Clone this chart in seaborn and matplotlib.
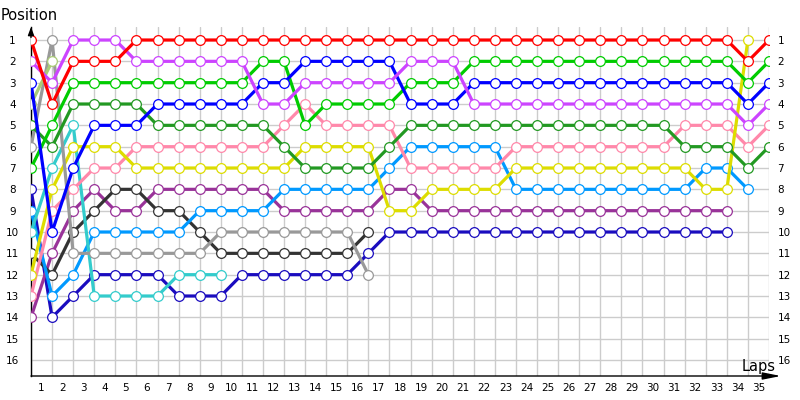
import matplotlib

matplotlib.use("Agg")
import matplotlib.pyplot as plt
import seaborn as sns

# Race position at the end of each lap; index 0 is the starting grid.
red = [1, 4, 2, 2, 2, 1, 1, 1, 1, 1, 1, 1, 1, 1, 1, 1, 1, 1, 1, 1,
       1, 1, 1, 1, 1, 1, 1, 1, 1, 1, 1, 1, 1, 1, 2, 1]
violet = [2, 3, 1, 1, 1, 2, 2, 2, 2, 2, 2, 4, 4, 3, 3, 3, 3, 3, 2, 2,
          2, 4, 4, 4, 4, 4, 4, 4, 4, 4, 4, 4, 4, 4, 5, 4]
blue = [3, 10, 7, 5, 5, 5, 4, 4, 4, 4, 4, 3, 3, 2, 2, 2, 2, 2, 4, 4,
        4, 3, 3, 3, 3, 3, 3, 3, 3, 3, 3, 3, 3, 3, 4, 3]
light_green = [4, 2]
green = [7, 5, 3, 3, 3, 3, 3, 3, 3, 3, 3, 2, 2, 5, 4, 4, 4, 4, 3, 3,
         3, 2, 2, 2, 2, 2, 2, 2, 2, 2, 2, 2, 2, 2, 3, 2]
dark_green = [5, 6, 4, 4, 4, 4, 5, 5, 5, 5, 5, 5, 6, 7, 7, 7, 7, 6, 5, 5,
              5, 5, 5, 5, 5, 5, 5, 5, 5, 5, 5, 6, 6, 6, 7, 6]
gray = [6, 1, 11, 11, 11, 11, 11, 11, 11, 10, 10, 10, 10, 10, 10, 10, 12]
yellow = [12, 8, 6, 6, 6, 7, 7, 7, 7, 7, 7, 7, 7, 6, 6, 6, 6, 9, 9, 8,
          8, 8, 8, 7, 7, 7, 7, 7, 7, 7, 7, 7, 8, 8, 1]
pink = [13, 9, 8, 7, 7, 6, 6, 6, 6, 6, 6, 6, 5, 4, 5, 5, 5, 5, 7, 7,
        7, 7, 7, 6, 6, 6, 6, 6, 6, 6, 6, 5, 5, 5, 6, 5]
cyan = [10, 7, 5, 13, 13, 13, 13, 12, 12, 12]
light_blue = [9, 13, 12, 10, 10, 10, 10, 10, 9, 9, 9, 9, 8, 8, 8, 8, 8, 7, 6, 6,
              6, 6, 6, 8, 8, 8, 8, 8, 8, 8, 8, 8, 7, 7, 8]
dark_gray = [11, 12, 10, 9, 8, 8, 9, 9, 10, 11, 11, 11, 11, 11, 11, 11, 10]
purple = [14, 11, 9, 8, 9, 9, 8, 8, 8, 8, 8, 8, 9, 9, 9, 9, 9, 8, 8, 9,
          9, 9, 9, 9, 9, 9, 9, 9, 9, 9, 9, 9, 9, 9]
dark_blue = [8, 14, 13, 12, 12, 12, 12, 13, 13, 13, 12, 12, 12, 12, 12, 12, 11, 10, 10, 10,
             10, 10, 10, 10, 10, 10, 10, 10, 10, 10, 10, 10, 10, 10]

series = [
    (dark_blue, "#1a0cbf"),
    (purple, "#993399"),
    (dark_gray, "#333333"),
    (light_blue, "#0099ff"),
    (cyan, "#33cccc"),
    (pink, "#ff88aa"),
    (yellow, "#dddd00"),
    (gray, "#999999"),
    (dark_green, "#229922"),
    (green, "#00cc00"),
    (light_green, "#aacc77"),
    (blue, "#0000ff"),
    (violet, "#cc44ff"),
    (red, "#ff0000"),
]

lap_labels = [str(k) for k in range(1, 36)]
positions = list(range(1, 17))

sns.set_theme(style="white")
plt.rcParams["font.family"] = ["DejaVu Sans"]

fig = plt.figure(figsize=(8, 4), dpi=100)
ax = fig.add_axes([31 / 800, 1 - 376 / 400, 738 / 800, (376 - 27) / 400])

for pos, color in series:
    sns.lineplot(
        x=list(range(len(pos))), y=pos, ax=ax, color=color, lw=2.3,
        marker="o", ms=7, mfc="white", mec=color, mew=0.9,
        sort=False, estimator=None, zorder=3,
    )

ax.set_xlim(0, 35)
ax.set_ylim(16.75, 0.39)

# lap numbers sit between the lap grid lines
ax.set_xticks([k - 0.5 for k in range(1, 36)])
ax.set_xticklabels(lap_labels)
ax.set_xticks(range(36), minor=True)
ax.set_yticks(positions)
ax.set_yticklabels([str(p) for p in positions])
for lab in ax.get_yticklabels():
    lab.set_horizontalalignment("center")

ax.grid(True, which="minor", axis="x", color="#cccccc", lw=1)
ax.grid(True, which="major", axis="y", color="#cccccc", lw=1)
ax.grid(False, which="major", axis="x")
ax.tick_params(axis="x", which="both", length=0, labelsize=7.5, pad=5, colors="black")
ax.tick_params(axis="y", length=0, labelsize=7.5, pad=13.5, colors="black")
ax.set_xlabel("")
ax.set_ylabel("")

for side in ["top", "right", "bottom"]:
    ax.spines[side].set_visible(False)
ax.spines["left"].set_color("black")
ax.spines["left"].set_linewidth(1)

# right-hand position labels
ax2 = ax.twinx()
ax2.set_ylim(ax.get_ylim())
ax2.set_yticks(positions)
ax2.set_yticklabels([str(p) for p in positions])
ax2.tick_params(axis="y", length=0, labelsize=7.5, pad=6, colors="black")
ax2.grid(False)
for side in ax2.spines:
    ax2.spines[side].set_visible(False)

# axis arrows
ax.annotate("", xy=(1.016, 0), xytext=(0, 0), xycoords="axes fraction",
            arrowprops=dict(arrowstyle="-|>,head_length=0.9,head_width=0.18",
                            color="black", lw=1, shrinkA=0, shrinkB=0),
            annotation_clip=False)
ax.annotate("", xy=(0, 1.0), xytext=(0, 0.97), xycoords="axes fraction",
            arrowprops=dict(arrowstyle="-|>,head_length=0.4,head_width=0.15",
                            color="black", lw=1, shrinkA=0, shrinkB=0),
            annotation_clip=False)

fig.text(1 / 800, 1 - 15 / 400, "Position", ha="left", va="center", fontsize=10.5, color="black")
fig.text(776 / 800, 1 - 366 / 400, "Laps", ha="right", va="center", fontsize=10.5, color="black")

fig.savefig("out.png", dpi=100, facecolor="white")
